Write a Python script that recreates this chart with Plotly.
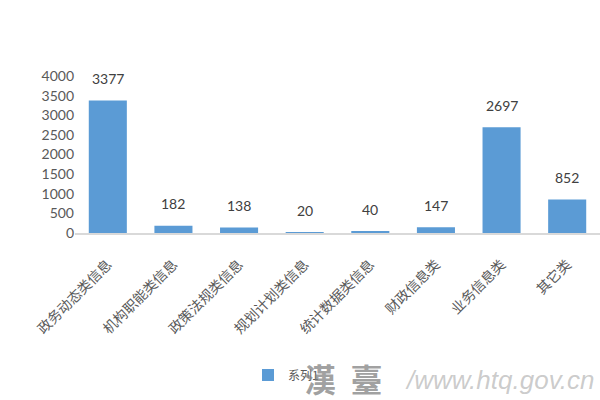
import plotly.graph_objects as go

categories = ["政务动态类信息", "机构职能类信息", "政策法规类信息", "规划计划类信息",
              "统计数据类信息", "财政信息类", "业务信息类", "其它类"]
values = [3377, 182, 138, 20, 40, 147, 2697, 852]
series_name = "系列1"
y_ticks = [0, 500, 1000, 1500, 2000, 2500, 3000, 3500, 4000]

font_family = "Lato, 'Noto Sans CJK SC', sans-serif"
cjk = "'Noto Sans CJK SC', sans-serif"

L, R, T, B, W, H = 75, 0, 76, 167, 600, 400

fig = go.Figure()
fig.add_trace(go.Bar(
    x=categories, y=values, name=series_name,
    marker=dict(color="#5b9bd5", line=dict(width=0)),
    showlegend=True,
))

annotations = []
for c, v in zip(categories, values):
    annotations.append(dict(
        x=c, y=v, xref="x", yref="y", text=str(v), showarrow=False,
        yanchor="middle", yshift=22,
        font=dict(size=14, color="#404040", family=font_family),
    ))


def px_to_paper(px, py):
    return (px - L) / (W - L - R), (H - B - py) / (H - T - B)


wx1, wy1 = px_to_paper(343, 378)
wx2, wy2 = px_to_paper(596, 380)
annotations += [
    dict(text="<b>漢  臺</b>", x=wx1, y=wy1, xref="paper", yref="paper", showarrow=False,
         font=dict(size=32, color="rgba(130,130,130,0.75)", family="'Noto Sans CJK TC', sans-serif"),
         xanchor="center", yanchor="middle"),
    dict(text="<i>/www.htq.gov.cn</i>", x=wx2, y=wy2, xref="paper", yref="paper", showarrow=False,
         font=dict(size=26, color="rgba(160,160,160,0.55)", family="'Liberation Sans', sans-serif"),
         xanchor="right", yanchor="middle"),
]

lx, ly = px_to_paper(248, 375)

fig.update_layout(
    width=W, height=H,
    margin=dict(l=L, r=R, t=T, b=B),
    paper_bgcolor="white", plot_bgcolor="white",
    bargap=0.42,
    font=dict(family=font_family, color="#595959"),
    xaxis=dict(
        tickangle=-45, tickfont=dict(size=14, color="#595959", family=cjk),
        showline=True, linecolor="#d9d9d9", linewidth=1.5,
        showgrid=False, ticks="", ticklabelstandoff=16,
    ),
    yaxis=dict(
        range=[0, 4000], tickvals=y_ticks, showgrid=False, zeroline=False,
        tickfont=dict(size=14, color="#595959", family=font_family),
        showline=False, ticks="",
    ),
    legend=dict(
        orientation="h", x=lx, y=ly, xanchor="left", yanchor="middle",
        font=dict(size=12, color="#595959", family=cjk),
        bgcolor="rgba(0,0,0,0)",
    ),
    annotations=annotations,
)

fig.write_html("out.html", config={"displayModeBar": False},
               post_script="document.body.style.margin='0';")
